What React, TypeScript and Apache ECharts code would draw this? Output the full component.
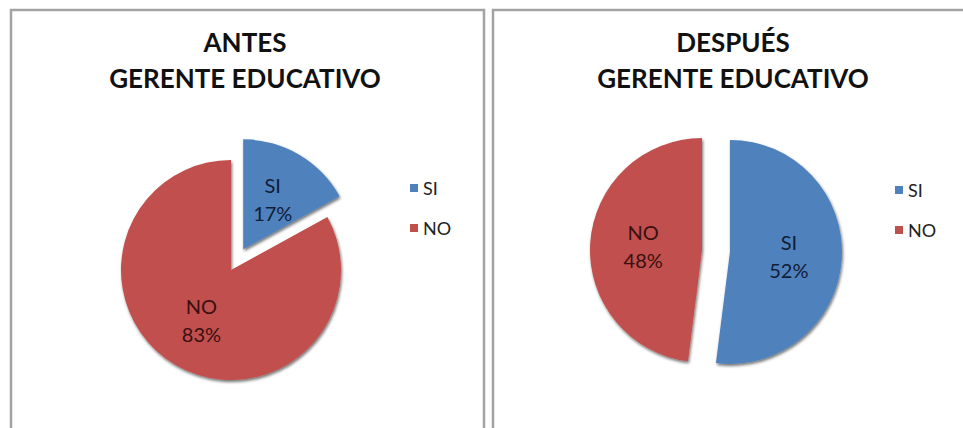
import React, { useEffect, useRef } from "react";
import * as echarts from "echarts";

const categories = ["SI", "NO"];
const antesValues = [17, 83];
const despuesValues = [52, 48];
const panelTitles = ["ANTES", "DESPUÉS"];
const subtitle = "GERENTE EDUCATIVO";

const colors = ["#4F81BD", "#C0504D"];
const labelColors = ["#0f1d36", "#3a0f0f"];

function makeData(values: number[], selected: boolean[]) {
  return categories.map((name, i) => ({
    name,
    value: values[i],
    selected: selected[i],
    itemStyle: { color: colors[i] },
    label: { color: labelColors[i] },
  }));
}

export default function App() {
  const ref = useRef<HTMLDivElement>(null);
  useEffect(() => {
    if (!ref.current) return;
    const chart = echarts.init(ref.current, null, { renderer: "svg" });
    const font = "Lato, 'Open Sans', sans-serif";
    const pieCommon = {
      type: "pie",
      startAngle: 90,
      clockwise: true,
      avoidLabelOverlap: false,
      emphasis: { disabled: true },
      itemStyle: {
        shadowBlur: 3,
        shadowOffsetX: 1,
        shadowOffsetY: 2,
        shadowColor: "rgba(0,0,0,0.55)",
      },
      label: {
        show: true,
        position: "inside",
        fontFamily: font,
        fontSize: 20,
        lineHeight: 28,
        formatter: (p: any) => `${p.name}\n${p.value}%`,
      },
      labelLine: { show: false },
    };
    const legendCommon = {
      orient: "vertical",
      icon: "rect",
      itemWidth: 8,
      itemHeight: 8,
      itemGap: 20,
      selectedMode: false,
      data: categories,
      textStyle: { fontFamily: font, fontSize: 18, lineHeight: 20, color: "#222" },
    };
    const titleText = (x: number, y: number, text: string) => ({
      type: "text",
      x,
      y,
      style: {
        text,
        font: `bold 26px ${font}`,
        fill: "#111",
        align: "center",
        verticalAlign: "middle",
        textAlign: "center",
        textVerticalAlign: "middle",
      },
    });
    chart.setOption({
      animation: false,
      backgroundColor: "#ffffff",
      graphic: [
        {
          type: "rect",
          shape: { x: 11, y: 10, width: 473, height: 440 },
          style: { fill: "none", stroke: "#a3a3a3", lineWidth: 2.5 },
        },
        {
          type: "rect",
          shape: { x: 493, y: 10, width: 520, height: 440 },
          style: { fill: "none", stroke: "#a3a3a3", lineWidth: 2.5 },
        },
        titleText(245, 42, panelTitles[0]),
        titleText(245, 78, subtitle),
        titleText(733, 42, panelTitles[1]),
        titleText(733, 78, subtitle),
      ],
      legend: [
        { ...legendCommon, left: 405, top: 173 },
        { ...legendCommon, left: 890, top: 175 },
      ],
      series: [
        {
          ...pieCommon,
          name: "ANTES",
          center: [231, 270],
          radius: 110,
          selectedMode: "single",
          selectedOffset: 24,
          data: makeData(antesValues, [true, false]),
        },
        {
          ...pieCommon,
          name: "DESPUÉS",
          center: [716, 251],
          radius: 112,
          selectedMode: "multiple",
          selectedOffset: 14,
          data: makeData(despuesValues, [true, true]),
        },
      ],
    });
    return () => chart.dispose();
  }, []);
  return (
    <div
      ref={ref}
      style={{ position: "fixed", left: 0, top: 0, width: 963, height: 428, background: "#fff" }}
    />
  );
}
